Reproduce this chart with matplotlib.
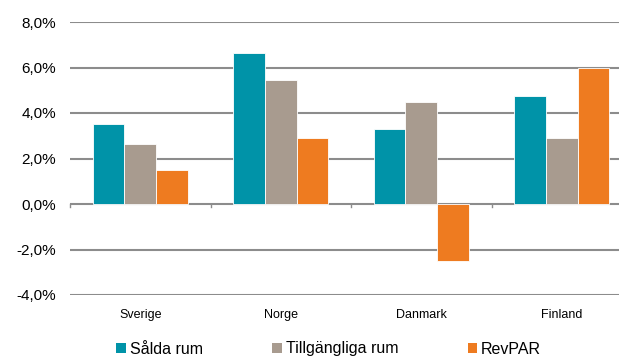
import matplotlib
matplotlib.use("Agg")
import matplotlib.pyplot as plt
import numpy as np
from matplotlib.patches import Patch

plt.rcParams['font.family'] = ['Liberation Sans', 'DejaVu Sans']

categories = ["Sverige", "Norge", "Danmark", "Finland"]
series_names = ["Sålda rum", "Tillgängliga rum", "RevPAR"]
salda = [3.5, 6.65, 3.3, 4.75]
tillgangliga = [2.65, 5.45, 4.5, 2.9]
revpar = [1.5, 2.9, -2.5, 6.0]
yticks = [-4, -2, 0, 2, 4, 6, 8]
ytick_labels = ["-4,0%", "-2,0%", "0,0%", "2,0%", "4,0%", "6,0%", "8,0%"]
colors = ["#0093A8", "#A89B8F", "#EE7B20"]

W, H = 619, 356
fig = plt.figure(figsize=(W / 100, H / 100), dpi=100)
ax = fig.add_axes([70 / W, (H - 295) / H, 562 / W, 273 / H])

x = np.arange(len(categories))
bw = 0.225
for i, (vals, c) in enumerate(zip([salda, tillgangliga, revpar], colors)):
    ax.bar(x + (i - 1) * bw, vals, bw, color=c, edgecolor="white", linewidth=0.6, zorder=3)

ax.set_xlim(-0.5, len(categories) - 0.5)
ax.set_ylim(-4, 8)
ax.set_yticks(yticks)
ax.set_yticklabels(ytick_labels, fontsize=11)
ax.tick_params(axis="y", length=0, pad=10)
for y in yticks:
    ax.axhline(y, color="#8C8C8C", linewidth=1.5, zorder=1)
for s in ax.spines.values():
    s.set_visible(False)

ax.set_xticks(x)
ax.set_xticklabels(categories, fontsize=9)
ax.tick_params(axis="x", length=0, pad=10)
# category boundary ticks on the zero line
for b in np.arange(-0.5, len(categories), 1.0):
    ax.plot([b, b], [0, -0.12], color="#8C8C8C", linewidth=1, zorder=2, clip_on=False)

handles = [Patch(facecolor=c, edgecolor="none") for c in colors]
fig.legend(handles, series_names, loc="center left", bbox_to_anchor=(116 / W, 1 - 349 / H),
           ncol=3, frameon=False, fontsize=11.5, handlelength=0.6, handleheight=0.6,
           handletextpad=0.25, columnspacing=4.35, borderpad=0, borderaxespad=0)

fig.savefig("out.png", dpi=100)
